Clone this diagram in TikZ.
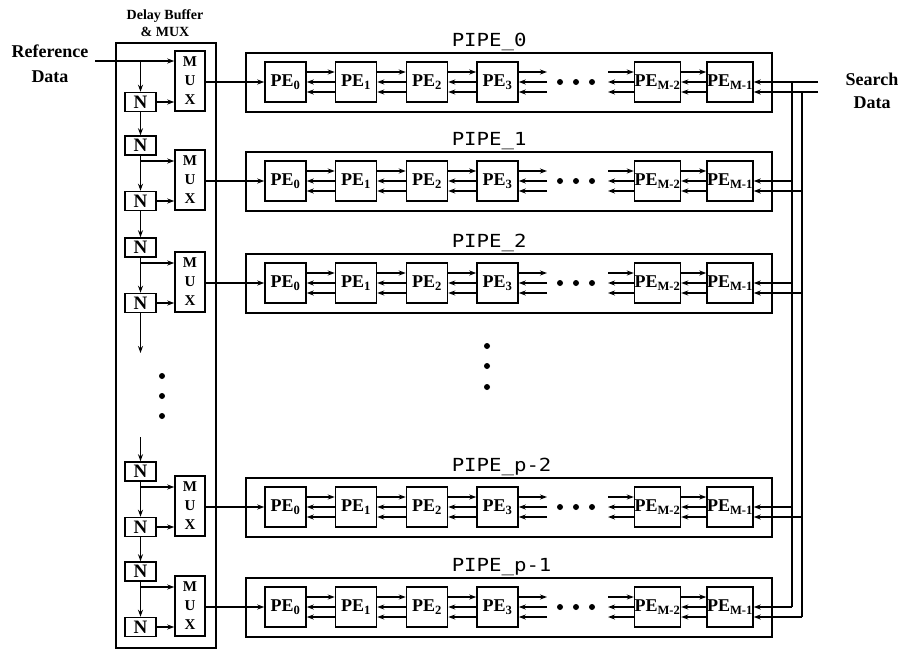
\documentclass[tikz,border=0pt]{standalone}
\usepackage{fontspec}
\setmainfont{Liberation Serif}
\newfontfamily\pipefont[FakeStretch=1.15]{DejaVu Sans Mono}
\usetikzlibrary{arrows.meta}
\begin{document}
\begin{tikzpicture}[x=1pt,y=-1pt,
  line width=1.5pt,
  >={Stealth[length=7pt,width=5pt]},
  pebox/.style={draw, minimum width=41pt, minimum height=40pt, inner sep=0pt,
    font=\fontsize{18}{18}\selectfont\bfseries},
  pipebox/.style={draw, line width=1.7pt, minimum width=526pt, minimum height=59pt, inner sep=0pt},
  pipelabel/.style={font=\pipefont\fontsize{18}{18}\selectfont, inner sep=0pt},
  muxbox/.style={draw, minimum width=30pt, minimum height=60pt, inner sep=0pt, align=center,
    font=\fontsize{15}{19}\selectfont\bfseries},
  nbox/.style={draw, minimum width=31pt, minimum height=19pt, inner sep=0pt,
    font=\fontsize{19}{19}\selectfont\bfseries},
  lbl/.style={align=center, font=\bfseries, inner sep=0pt},
  dot/.style={fill, circle, inner sep=0pt, minimum size=6pt}
]
\useasboundingbox (0,0) rectangle (904,651);

% delay buffer box and titles
\node[draw, minimum width=100pt, minimum height=605pt, inner sep=0pt] (delay) at (166,345.5) {};
\node[lbl, font=\fontsize{14}{17}\selectfont\bfseries] (dtitle) at (165,23) {Delay Buffer\\\& MUX};
\node[lbl, font=\fontsize{18}{25}\selectfont\bfseries] (reftxt) at (50,64) {Reference\\Data};
\node[lbl, font=\fontsize{18}{23}\selectfont\bfseries] (srchtxt) at (872,91) {Search\\Data};

\foreach \i/\T/\lab in {0/53/0,1/152/1,2/254/2,3/478/p-2,4/578/p-1} {
  \node[pipebox] (pipe\i) at (509,\T+29.5) {};
  \node[pipelabel, anchor=west] (lab\i) at (451,\T-11) {PIPE\_\lab};
  \foreach \k/\xc/\s in {0/285.5/0,1/356/1,2/427/2,3/497.5/3,4/657.5/M-2,5/730/M-1}
    \node[pebox] (p\i e\k) at (\xc,\T+29) {PE\textsubscript{\s}};
  \foreach \a/\b in {0/1,1/2,2/3,4/5} {
    \draw[->] ([yshift=10pt]p\i e\a.east) -- ([yshift=10pt]p\i e\b.west);
    \draw[->] (p\i e\b.west) -- (p\i e\a.east);
    \draw[->] ([yshift=-10pt]p\i e\b.west) -- ([yshift=-10pt]p\i e\a.east);
  }
  \coordinate (o\i) at (547,\T+29);
  \coordinate (in\i) at (608,\T+29);
  \draw[->] ([yshift=10pt]p\i e3.east) -- ([yshift=10pt]o\i);
  \draw[->] (o\i) -- (p\i e3.east);
  \draw[->] ([yshift=-10pt]o\i) -- ([yshift=-10pt]p\i e3.east);
  \draw[->] ([yshift=10pt]in\i) -- ([yshift=10pt]p\i e4.west);
  \draw[->] (p\i e4.west) -- (in\i);
  \draw[->] ([yshift=-10pt]p\i e4.west) -- ([yshift=-10pt]in\i);
  \node[dot] (da\i) at (560,\T+29) {};
  \node[dot] (db\i) at (576,\T+29) {};
  \node[dot] (dc\i) at (592,\T+29) {};
  % search data feed
  \coordinate (va\i) at (792,\T+29);
  \coordinate (vb\i) at (802,\T+39);
  \draw[->] (va\i) -- (p\i e5.east);
  \draw[->] (vb\i) -- ([yshift=-10pt]p\i e5.east);
  % mux
  \node[muxbox] (mux\i) at (190,\T+28) {M\\U\\X};
  \draw[->] (mux\i.east |- p\i e0.west) -- (p\i e0.west);
  \node[nbox] (nb\i) at (140.5,\T+49) {N};
  \draw[->] (nb\i.east) -- (mux\i.west |- nb\i.east);
}

% search data inputs
\coordinate (sd1) at (818,82);
\coordinate (sd2) at (818,92);
\draw (sd1) -- (va0);
\draw (sd2) -- (vb0);
\draw (va0) -- (va4);
\draw (vb0) -- (vb4);

% reference data path
\coordinate (refstart) at (95,61);
\coordinate (br0) at (140.5,61);
\draw[->] (refstart) -- (mux0.west |- refstart);
\draw[->] (br0) -- (nb0.north);

\foreach \i/\T in {1/152,2/254,3/478,4/578} {
  \node[nbox] (na\i) at (140.5,\T-6.5) {N};
  \coordinate (br\i) at (140.5,\T+9);
  \draw[->] (na\i.south) -- (nb\i.north);
  \draw[->] (br\i) -- (mux\i.west |- br\i);
}
\draw[->] (nb0.south) -- (na1.north);
\draw[->] (nb1.south) -- (na2.north);
\draw[->] (nb3.south) -- (na4.north);
\coordinate (dend) at (140.5,353);
\coordinate (dstart) at (140.5,437);
\draw[->] (nb2.south) -- (dend);
\draw[->] (dstart) -- (na3.north);

% vertical ellipses
\node[dot] (le1) at (162,376) {};
\node[dot] (le2) at (162,396) {};
\node[dot] (le3) at (162,416) {};
\node[dot] (me1) at (487,346) {};
\node[dot] (me2) at (487,366) {};
\node[dot] (me3) at (487,387) {};
\end{tikzpicture}
\end{document}
